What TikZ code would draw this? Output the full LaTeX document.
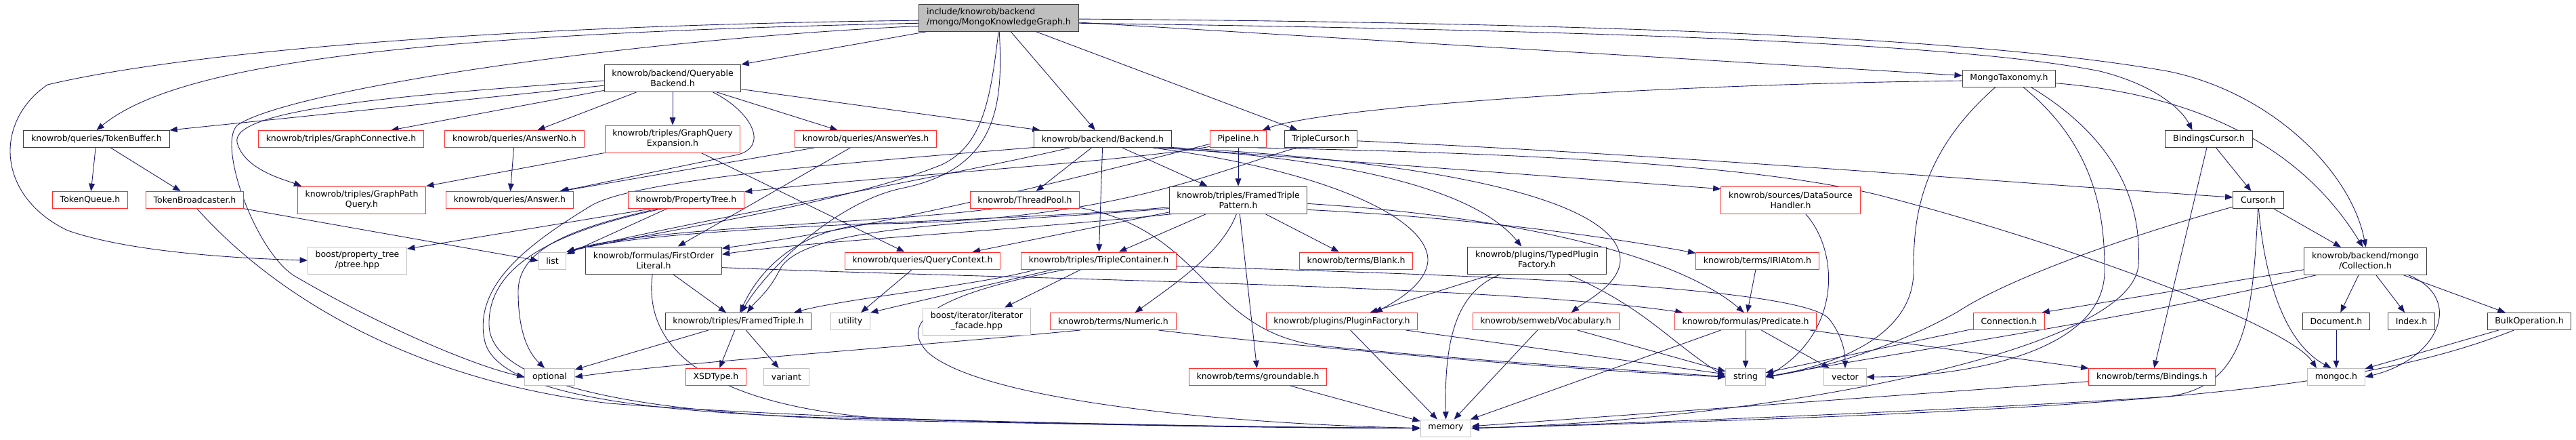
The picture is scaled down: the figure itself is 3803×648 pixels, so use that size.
\documentclass[tikz,border=0pt]{standalone}
\usepackage{fontspec}
\setmainfont{DejaVu Sans}
\usetikzlibrary{arrows.meta, backgrounds}
\definecolor{edgeblue}{HTML}{191970}
\definecolor{doxred}{HTML}{FF3030}
\definecolor{doxgrey}{HTML}{BFBFBF}
\definecolor{doxdark}{HTML}{404040}

\begin{document}
\begin{tikzpicture}[
    x=0.8pt, y=-0.8pt,
    font=\fontsize{10}{12}\selectfont,
    file/.style={draw, line width=0.8pt, fill=white, inner xsep=9pt, inner ysep=2pt, minimum height=20pt, align=center},
    blackbox/.style={file, draw=doxdark},
    redbox/.style={file, draw=doxred},
    greybox/.style={file, draw=doxgrey},
    tall/.style={minimum height=32pt},
    incl/.style={draw=edgeblue, line width=0.7pt, -{Triangle[length=9pt, width=7pt]}}
]
    \useasboundingbox (0,0) rectangle (3803,648);

    % Root file
    \node [blackbox, tall, fill=doxgrey, align=left] (root) at (1474.5,26) {include/knowrob/backend\\/mongo/MongoKnowledgeGraph.h};

    % Rank 1
    \node [blackbox, tall] (qb) at (993,115.5) {knowrob/backend/Queryable\\Backend.h};
    \node [blackbox] (mtax) at (2966,115.5) {MongoTaxonomy.h};

    % Rank 2
    \node [blackbox] (tokbuf) at (142.5,205) {knowrob/queries/TokenBuffer.h};
    \node [redbox] (gconn) at (503.5,205) {knowrob/triples/GraphConnective.h};
    \node [redbox] (ansno) at (759.5,205) {knowrob/queries/AnswerNo.h};
    \node [redbox, tall] (gqexp) at (993,205) {knowrob/triples/GraphQuery\\Expansion.h};
    \node [redbox] (ansyes) at (1278,205) {knowrob/queries/AnswerYes.h};
    \node [blackbox] (backend) at (1628,205) {knowrob/backend/Backend.h};
    \node [redbox] (pipeline) at (1828,205) {Pipeline.h};
    \node [blackbox] (tcursor) at (1950,205) {TripleCursor.h};
    \node [blackbox] (bcursor) at (3261,205) {BindingsCursor.h};

    % Rank 3
    \node [redbox] (tokq) at (133,295) {TokenQueue.h};
    \node [redbox] (tokbc) at (287.5,295) {TokenBroadcaster.h};
    \node [redbox, tall] (gpq) at (534,295) {knowrob/triples/GraphPath\\Query.h};
    \node [redbox] (answer) at (752.5,295) {knowrob/queries/Answer.h};
    \node [redbox] (ptreeK) at (1013,295) {knowrob/PropertyTree.h};
    \node [redbox] (tpool) at (1513,295) {knowrob/ThreadPool.h};
    \node [blackbox, tall] (ftp) at (1828,295) {knowrob/triples/FramedTriple\\Pattern.h};
    \node [redbox, tall] (dsh) at (2643.5,295) {knowrob/sources/DataSource\\Handler.h};
    \node [blackbox] (cursor) at (3334,295) {Cursor.h};

    % Rank 4
    \node [greybox, tall] (ptree) at (527.5,384) {boost/property\_tree\\/ptree.hpp};
    \node [greybox] (list) at (815.5,384.5) {list};
    \node [blackbox, tall] (fol) at (965,384) {knowrob/formulas/FirstOrder\\Literal.h};
    \node [redbox] (qctx) at (1362,384.5) {knowrob/queries/QueryContext.h};
    \node [redbox] (tcont) at (1622,384.5) {knowrob/triples/TripleContainer.h};
    \node [redbox] (blank) at (2002,384.5) {knowrob/terms/Blank.h};
    \node [blackbox, tall] (tpf) at (2269,384) {knowrob/plugins/TypedPlugin\\Factory.h};
    \node [redbox] (iri) at (2594.5,384.5) {knowrob/terms/IRIAtom.h};
    \node [blackbox, tall] (coll) at (3492,385) {knowrob/backend/mongo\\/Collection.h};

    % Rank 5
    \node [blackbox] (ft) at (1090,474) {knowrob/triples/FramedTriple.h};
    \node [greybox] (utility) at (1255.5,474) {utility};
    \node [greybox, tall] (iterfac) at (1442,474) {boost/iterator/iterator\\\_facade.hpp};
    \node [redbox] (numeric) at (1643.5,474) {knowrob/terms/Numeric.h};
    \node [redbox] (pfact) at (1981,474) {knowrob/plugins/PluginFactory.h};
    \node [redbox] (vocab) at (2282,474) {knowrob/semweb/Vocabulary.h};
    \node [redbox] (pred) at (2577,474) {knowrob/formulas/Predicate.h};
    \node [redbox] (conn) at (2966,474) {Connection.h};
    \node [blackbox] (doc) at (3449,474) {Document.h};
    \node [blackbox] (index) at (3560,474) {Index.h};
    \node [blackbox] (bulk) at (3734,474) {BulkOperation.h};

    % Rank 6
    \node [greybox] (optional) at (811.5,556) {optional};
    \node [redbox] (xsd) at (1057,556) {XSDType.h};
    \node [greybox] (variant) at (1161,556) {variant};
    \node [redbox] (ground) at (1857,556) {knowrob/terms/groundable.h};
    \node [greybox] (string) at (2577,556) {string};
    \node [greybox] (vector) at (2724,556) {vector};
    \node [redbox] (bindings) at (3177,556) {knowrob/terms/Bindings.h};
    \node [greybox] (mongoc) at (3449,556) {mongoc.h};

    % Rank 7
    \node [greybox] (memory) at (2134.5,631.5) {memory};

    \begin{scope}[on background layer]
    % Straight includes
    \foreach \a/\b in {root/backend, root/tcursor, root/mtax, qb/ansno, qb/gqexp, qb/ansyes,
        tokbuf/tokq, tokbuf/tokbc, ansno/answer, ansyes/answer, ansyes/fol, gqexp/qctx,
        ptreeK/list, backend/tpool, backend/tcont, backend/ftp, pipeline/ftp,
        bcursor/cursor, bcursor/bindings, cursor/coll, ftp/tcont, ftp/blank, ftp/ground,
        fol/ft, qctx/utility, tcont/iterfac, tpf/pfact, iri/pred, coll/doc, coll/index,
        coll/bulk, ft/optional, ft/xsd, ft/variant, pfact/memory, pfact/string,
        vocab/memory, vocab/string, pred/string, pred/vector, pred/memory, pred/bindings,
        conn/string, doc/mongoc, bulk/mongoc, ground/memory, bindings/memory}
        \draw [incl] (\a) -- (\b);

    % Root includes
    \draw [incl] (root.182) .. controls (700,38) and (260,80) .. (70,125) .. controls (-10,180) and (-5,290) .. (100,340) .. controls (200,375) and (380,382) .. (ptree.west);
    \draw [incl] (root.184) .. controls (600,50) and (260,95) .. (tokbuf.north);
    \draw [incl] (root.186) .. controls (900,60) and (420,135) .. (350,185) .. controls (320,215) and (380,380) .. (440,410) .. controls (560,480) and (700,540) .. (optional.west);
    \draw [incl] (root.-169) -- (qb.north east);
    \draw [incl] (root.-91) .. controls (1462,150) and (1450,215) .. (1390,243) .. controls (1250,300) and (950,345) .. (list.north east);
    \draw [incl] (root.-88) .. controls (1482,160) and (1470,250) .. (1330,278) .. controls (1230,300) and (1130,400) .. (ft.72);
    \draw [incl] (root.-4) .. controls (2400,45) and (2900,65) .. (3100,105) .. controls (3180,125) and (3220,160) .. (bcursor.152);
    \draw [incl] (root.-1) .. controls (2600,35) and (3000,70) .. (3200,105) .. controls (3350,135) and (3470,250) .. (coll.88);

    % Queryable backend
    \draw [incl] (qb.182) .. controls (600,140) and (340,160) .. (350,210) .. controls (360,250) and (420,265) .. (gpq.167);
    \draw [incl] (qb.186) -- (tokbuf.north east);
    \draw [incl] (qb.190) -- (gconn.10);
    \draw [incl] (qb.-19) .. controls (1110,165) and (1135,215) .. (1090,228) .. controls (980,250) and (880,272) .. (answer.10);
    \draw [incl] (qb.-9) -- (backend.172);

    % Left part
    \draw [incl] (tokbc.-10) -- (list.west);
    \draw [incl] (tokbc.-75) .. controls (400,430) and (600,560) .. (900,595) .. controls (1300,625) and (1900,632) .. (memory.west);
    \draw [incl] (gqexp.south west) -- (gpq.north east);
    \draw [incl] (ptreeK.194) -- (ptree.13);
    \draw [incl] (ptreeK.197) .. controls (850,335) and (765,365) .. (765,430) .. controls (765,490) and (780,520) .. (optional.120);
    \draw [incl] (ptreeK.200) .. controls (800,345) and (720,400) .. (722,480) .. controls (725,580) and (1000,612) .. (1300,620) .. controls (1700,628) and (1950,631) .. (memory.west);

    % Backend
    \draw [incl] (backend.187) .. controls (1250,240) and (930,265) .. (870,305) .. controls (780,360) and (700,420) .. (715,500) .. controls (730,590) and (1000,612) .. (1300,618) .. controls (1700,628) and (1950,631) .. (memory.west);
    \draw [incl] (backend.-165) .. controls (1400,260) and (1000,330) .. (list.north east);
    \draw [incl] (backend.-8) -- (dsh.171);
    \draw [incl] (backend.-9) .. controls (1950,232) and (2170,270) .. (tpf.138);
    \draw [incl] (backend.-7) .. controls (2150,240) and (2395,300) .. (2392,385) .. controls (2390,420) and (2340,445) .. (vocab.19);
    \draw [incl] (backend.-10) .. controls (1950,250) and (2110,320) .. (2108,385) .. controls (2105,420) and (2060,445) .. (pfact.15);

    % Pipeline and cursors
    \draw [incl] (pipeline.-165) .. controls (1650,240) and (1300,260) .. (ptreeK.8);
    \draw [incl] (pipeline.-170) .. controls (1600,260) and (1300,335) .. (fol.10);
    \draw [incl] (pipeline.-25) .. controls (2200,225) and (2600,240) .. (2790,292) .. controls (3050,360) and (3380,480) .. (mongoc.156);
    \draw [incl] (tcursor.-3) .. controls (2500,230) and (3000,272) .. (cursor.174);
    \draw [incl] (tcursor.-160) .. controls (1800,250) and (1650,325) .. (1300,330) .. controls (1180,332) and (1120,400) .. (ft.80);

    % MongoTaxonomy
    \draw [incl] (mtax.183) .. controls (2400,125) and (1950,160) .. (pipeline.20);
    \draw [incl] (mtax.-6) .. controls (3250,140) and (3400,220) .. (coll.100);
    \draw [incl] (mtax.-147) .. controls (2830,230) and (2825,330) .. (2825,400) .. controls (2825,500) and (2700,540) .. (string.east);
    \draw [incl] (mtax.-32) .. controls (3100,220) and (3107,330) .. (3107,400) .. controls (3107,520) and (2900,556) .. (vector.east);
    \draw [incl] (mtax.-22) .. controls (3150,220) and (3160,330) .. (3157,390) .. controls (3150,520) and (2600,620) .. (memory.east);

    % Middle part
    \draw [incl] (tpool.-165) .. controls (1300,330) and (950,335) .. (list.north east);
    \draw [incl] (tpool.-8) .. controls (1780,340) and (1780,490) .. (1950,510) .. controls (2200,535) and (2450,548) .. (string.west);
    \draw [incl] (ftp.192) .. controls (1500,340) and (1200,355) .. (fol.5);
    \draw [incl] (ftp.187) .. controls (1450,330) and (1180,330) .. (1150,400) .. controls (1135,430) and (1115,445) .. (ft.45);
    \draw [incl] (ftp.190) -- (qctx.10);
    \draw [incl] (ftp.186) .. controls (1450,330) and (1000,330) .. (list.north east);
    \draw [incl] (ftp.-97) .. controls (1805,370) and (1740,415) .. (numeric.22);
    \draw [incl] (ftp.-8) .. controls (2150,320) and (2350,345) .. (iri.173);
    \draw [incl] (ftp.-3) .. controls (2250,320) and (2480,380) .. (pred.100);
    \draw [incl] (fol.-95) .. controls (955,470) and (975,590) .. (1300,617) .. controls (1700,628) and (1950,631) .. (memory.west);
    \draw [incl] (fol.-6) .. controls (1500,412) and (2200,420) .. (pred.172);
    \draw [incl] (tcont.-172) .. controls (1450,420) and (1250,440) .. (ft.9);
    \draw [incl] (tcont.-169) -- (utility.north east);
    \draw [incl] (tcont.-165) .. controls (1400,430) and (1320,470) .. (1370,520) .. controls (1450,590) and (1800,625) .. (memory.west);
    \draw [incl] (tcont.-4) .. controls (2000,402) and (2650,415) .. (2700,470) .. controls (2720,495) and (2724,520) .. (vector.north);
    \draw [incl] (numeric.-165) .. controls (1300,515) and (1000,535) .. (optional.east);
    \draw [incl] (numeric.-11) .. controls (1900,510) and (2300,545) .. (string.west);
    \draw [incl] (tpf.-159) .. controls (2150,430) and (2132,500) .. (memory.north);
    \draw [incl] (tpf.-24) .. controls (2430,455) and (2460,500) .. (string.west);
    \draw [incl] (dsh.-43) .. controls (2715,370) and (2720,490) .. (string.east);

    % Mongo part
    \draw [incl] (cursor.-88) .. controls (3345,430) and (3380,510) .. (mongoc.120);
    \draw [incl] (cursor.-92) .. controls (3325,460) and (3320,570) .. (3200,585) .. controls (2900,605) and (2400,625) .. (memory.east);
    \draw [incl] (cursor.195) .. controls (3100,360) and (2950,420) .. (2890,460) .. controls (2800,510) and (2700,542) .. (string.east);
    \draw [incl] (coll.-18) .. controls (3640,440) and (3600,530) .. (mongoc.east);
    \draw [incl] (coll.188) -- (conn.15);
    \draw [incl] (coll.-164) .. controls (3150,470) and (2800,520) .. (string.east);
    \draw [incl] (bulk.-150) .. controls (3500,570) and (3200,605) .. (memory.east);
    \end{scope}

\end{tikzpicture}
\end{document}
